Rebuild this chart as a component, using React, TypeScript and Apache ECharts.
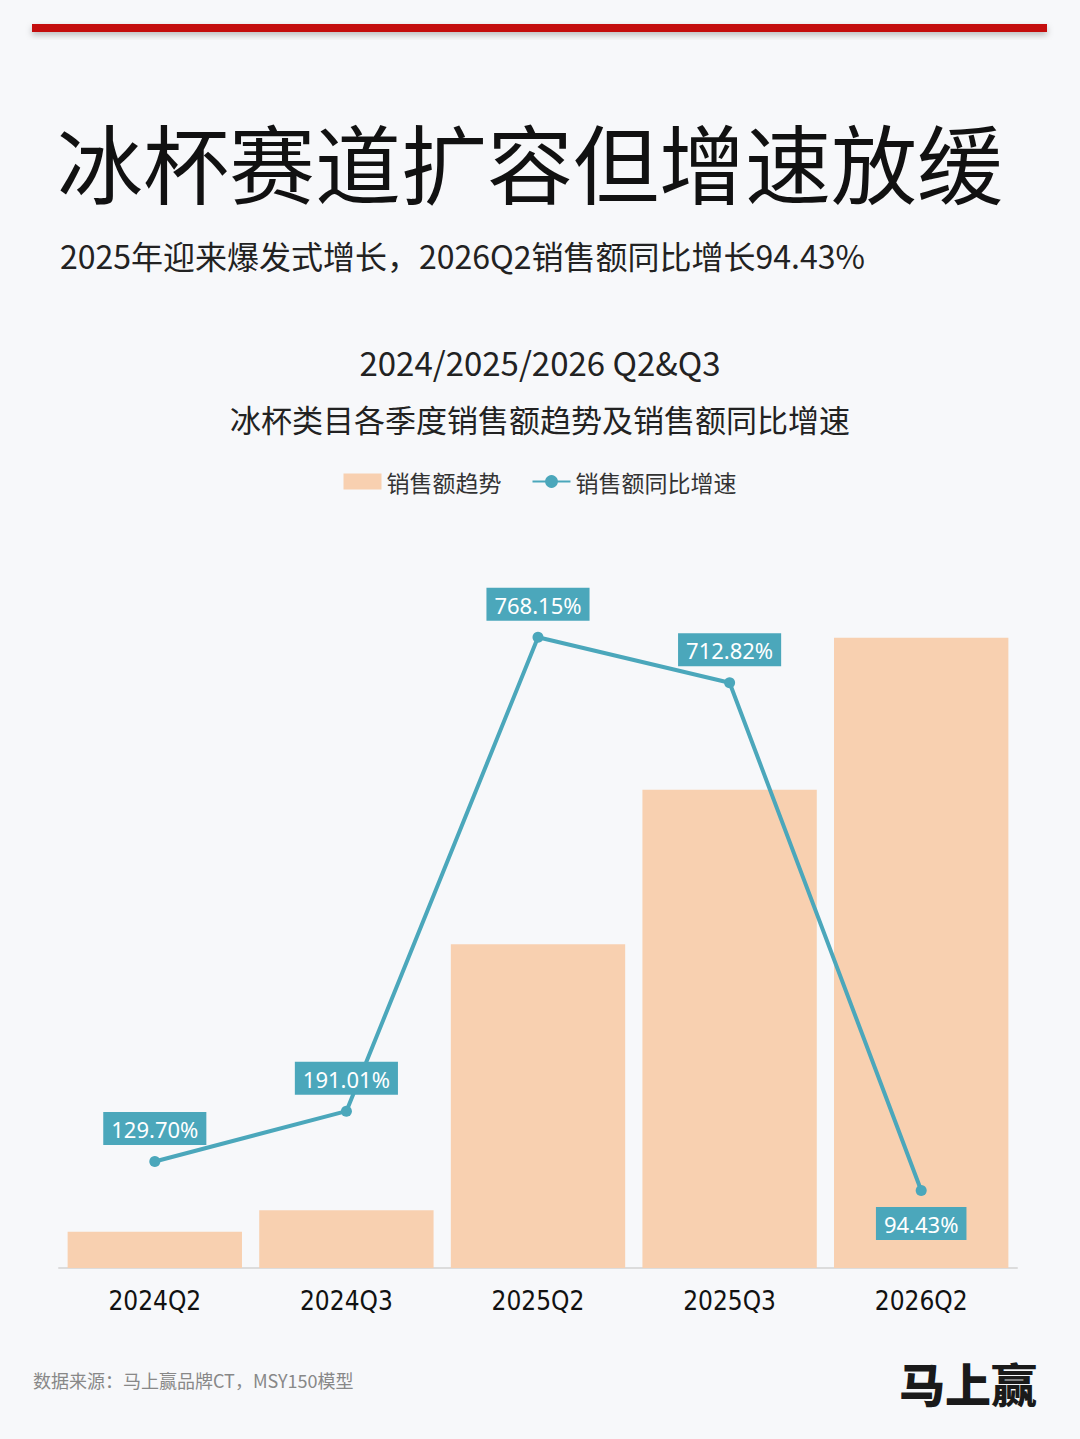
import React, { useEffect, useRef } from "react";
import * as echarts from "echarts";

const categories = ["2024Q2", "2024Q3", "2025Q2", "2025Q3", "2026Q2"];
// relative sales volume (no axis in original)
const salesTrend = [4.9, 7.8, 43.8, 64.7, 85.3];
// YoY growth, %
const yoyGrowth = [129.7, 191.01, 768.15, 712.82, 94.43];
const labelBelow = [false, false, false, false, true];

const CJK = '"Noto Sans CJK SC", "Noto Sans", sans-serif';

export default function App() {
  const ref = useRef<HTMLDivElement>(null);
  useEffect(() => {
    document.body.style.margin = "0";
    const chart = echarts.init(ref.current!, null, { renderer: "svg" });
    chart.setOption({
      animation: false,
      backgroundColor: "#f7f8fa",
      textStyle: { fontFamily: CJK },
      title: [
        {
          text: "冰杯赛道扩容但增速放缓",
          left: 52,
          top: 112,
          textStyle: { fontSize: 86, fontWeight: 400, color: "#111", fontFamily: CJK },
        },
        {
          text: "2025年迎来爆发式增长，2026Q2销售额同比增长94.43%",
          left: 55,
          top: 234,
          textStyle: { fontSize: 32, fontWeight: 400, color: "#222", fontFamily: CJK },
        },
        {
          text: "2024/2025/2026 Q2&Q3",
          left: "center",
          top: 340,
          textStyle: { fontSize: 33, fontWeight: 400, color: "#222", fontFamily: CJK },
        },
        {
          text: "冰杯类目各季度销售额趋势及销售额同比增速",
          left: "center",
          top: 398,
          textStyle: { fontSize: 31, fontWeight: 400, color: "#222", fontFamily: CJK },
        },
        {
          text: "数据来源：马上赢品牌CT，MSY150模型",
          left: 28,
          top: 1366,
          textStyle: { fontSize: 18, fontWeight: 400, color: "#888", fontFamily: CJK },
        },
        {
          text: "马上赢",
          right: 38,
          top: 1354,
          textStyle: { fontSize: 46, fontWeight: 900, color: "#1a1a1a", fontFamily: CJK },
        },
      ],
      graphic: [
        {
          type: "rect",
          shape: { x: 32, y: 24, width: 1015, height: 8 },
          style: {
            fill: "#c40a0a",
            shadowBlur: 6,
            shadowColor: "rgba(0,0,0,0.25)",
            shadowOffsetY: 3,
          },
        },
      ],
      legend: {
        top: 465,
        left: "center",
        itemGap: 30,
        itemWidth: 38,
        itemHeight: 16,
        textStyle: { fontSize: 23, color: "#333", fontFamily: CJK },
        data: [
          { name: "销售额趋势", icon: "rect" },
          { name: "销售额同比增速" },
        ],
      },
      grid: { left: 59, right: 63, top: 529, bottom: 171 },
      xAxis: {
        type: "category",
        data: categories,
        axisTick: { show: false },
        axisLine: { lineStyle: { color: "#dcdcdc", width: 2 } },
        axisLabel: {
          margin: 20,
          fontSize: 26,
          color: "#111",
          fontFamily: '"Liberation Sans Narrow", "DejaVu Sans Condensed", sans-serif',
        },
      },
      yAxis: [
        { type: "value", min: 0, max: 100, show: false, splitLine: { show: false } },
        { type: "value", min: 0, max: 900, show: false, splitLine: { show: false } },
      ],
      series: [
        {
          name: "销售额趋势",
          type: "bar",
          yAxisIndex: 0,
          data: salesTrend,
          barCategoryGap: "9%",
          itemStyle: { color: "#f8d0b0" },
        },
        {
          name: "销售额同比增速",
          type: "line",
          yAxisIndex: 1,
          symbol: "circle",
          symbolSize: 11,
          lineStyle: { color: "#4ba7bb", width: 4 },
          itemStyle: { color: "#4ba7bb" },
          data: yoyGrowth.map((v, i) => ({
            value: v,
            label: {
              show: true,
              position: labelBelow[i] ? "bottom" : "top",
              distance: 11,
              formatter: (p: any) => p.value.toFixed(2) + "%",
              backgroundColor: "#4ba7bb",
              color: "#fff",
              fontSize: 22,
              padding: [6, 8, 5, 8],
              fontFamily: '"Noto Sans", sans-serif',
            },
          })),
        },
      ],
    });
    return () => chart.dispose();
  }, []);
  return (
    <div
      ref={ref}
      style={{ position: "absolute", left: 0, top: 0, width: 1080, height: 1439 }}
    />
  );
}
